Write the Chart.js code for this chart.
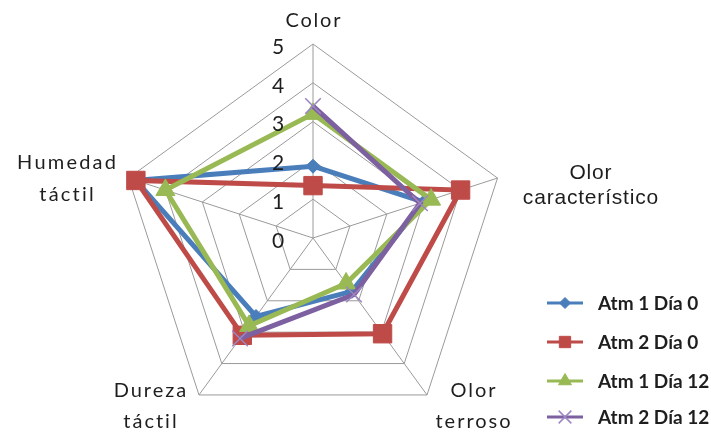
<!DOCTYPE html>
<html>
<head>
<meta charset="utf-8">
<script src="https://cdn.jsdelivr.net/npm/chart.js@4/dist/chart.umd.min.js"></script>
<style>
  html, body { margin: 0; padding: 0; background: #ffffff; }
  #wrap { width: 711px; height: 433px; position: relative; }
</style>
</head>
<body>
<div id="wrap"><canvas id="radar"></canvas></div>
<script>
// Sensory attributes (axes), clockwise from the top
const categories = ['Color', 'Olor característico', 'Olor terroso', 'Dureza táctil', 'Humedad táctil'];
const seriesNames = ['Atm 1 Día 0', 'Atm 2 Día 0', 'Atm 1 Día 12', 'Atm 2 Día 12'];

// Mean panel scores per attribute
const atm1Dia0  = [1.85, 3.0, 1.7, 2.5, 4.8];
const atm2Dia0  = [1.35, 4.0, 3.05, 3.1, 4.8];
const atm1Dia12 = [3.2, 3.2, 1.45, 2.8, 4.0];
const atm2Dia12 = [3.4, 2.9, 1.8, 3.2, null];

const tickValues = [0, 1, 2, 3, 4, 5];

// Visual styles per series
const seriesStyles = [
  { color: '#4A7EBB', point: 'rectRot', radius: 7, legendRadius: 5.5, pointBorder: 1 },
  { color: '#BE4B48', point: 'rect', radius: 13, legendRadius: 8, pointBorder: 1 },
  { color: '#98B954', point: 'triangle', radius: 11, legendRadius: 7.5, pointBorder: 1 },
  { color: '#7D60A0', point: 'crossRot', radius: 11, legendRadius: 9, pointBorder: 1.5, pointColor: '#9C86C2' }
];

// Axis captions: split lines, anchor offset from the outer vertex, typeface
const captionLayout = [
  { lines: ['Color'], dx: 0, dy: -17, lh: 0, font: '20px Lato', spacing: 1.8 },
  { lines: ['Olor', 'característico'], dx: 93, dy: 1, lh: 25, font: '21px "Liberation Sans"', spacing: 0.8 },
  { lines: ['Olor', 'terroso'], dx: 46, dy: 2, lh: 31, font: '20px Lato', spacing: 2 },
  { lines: ['Dureza', 'táctil'], dx: -49, dy: 2, lh: 31, font: '20px Lato', spacing: 2 },
  { lines: ['Humedad', 'táctil'], dx: -62, dy: -9, lh: 32, font: '20px Lato', spacing: 2.2 }
];

const seriesData = [atm1Dia0, atm2Dia0, atm1Dia12, atm2Dia12];

const datasets = seriesData.map((values, i) => {
  const s = seriesStyles[i];
  return {
    label: seriesNames[i],
    data: values,
    borderColor: s.color,
    backgroundColor: 'rgba(0,0,0,0)',
    borderWidth: 5,
    fill: false,
    spanGaps: false,
    pointStyle: s.point,
    pointRadius: s.radius,
    pointBorderWidth: s.pointBorder,
    pointBackgroundColor: s.pointColor || s.color,
    pointBorderColor: s.pointColor || s.color,
    order: seriesData.length - 1 - i
  };
});

function drawMarker(ctx, style, radius, x, y) {
  const helpers = Chart.helpers;
  ctx.save();
  ctx.fillStyle = style.pointColor || style.color;
  ctx.strokeStyle = style.pointColor || style.color;
  ctx.lineWidth = style.pointBorder;
  if (helpers && helpers.drawPoint) {
    helpers.drawPoint(ctx, { pointStyle: style.point, radius: radius, rotation: 0, borderWidth: style.pointBorder }, x, y);
  }
  ctx.restore();
}

const overlayText = {
  id: 'overlayText',
  afterDraw(chart) {
    const ctx = chart.ctx;
    const scale = chart.scales.r;

    // Axis captions
    ctx.save();
    ctx.fillStyle = '#1e1e1e';
    ctx.textAlign = 'center';
    ctx.textBaseline = 'alphabetic';
    captionLayout.forEach((c, i) => {
      const p = scale.getPointPosition(i, scale.drawingArea);
      ctx.font = c.font;
      if ('letterSpacing' in ctx) ctx.letterSpacing = c.spacing + 'px';
      c.lines.forEach((line, k) => {
        ctx.fillText(line, p.x + c.dx + c.spacing / 2, p.y + c.dy + k * c.lh);
      });
    });
    ctx.restore();

    // Value ticks, set off to the left of the top axis
    ctx.save();
    ctx.fillStyle = '#1e1e1e';
    ctx.font = '21px Lato';
    ctx.textAlign = 'center';
    ctx.textBaseline = 'middle';
    tickValues.forEach(v => {
      const p = scale.getPointPositionForValue(0, v);
      ctx.fillText(String(v), p.x - 35, p.y + 3);
    });
    ctx.restore();

    // Legend
    ctx.save();
    const lx0 = 547, lx1 = 583, tx = 598;
    const rowY = [303, 342, 381, 417];
    seriesNames.forEach((name, i) => {
      const s = seriesStyles[i];
      const y = rowY[i];
      ctx.strokeStyle = s.color;
      ctx.lineWidth = 3;
      ctx.beginPath();
      ctx.moveTo(lx0, y);
      ctx.lineTo(lx1, y);
      ctx.stroke();
      drawMarker(ctx, s, s.legendRadius, (lx0 + lx1) / 2, y);
      ctx.fillStyle = '#1e1e1e';
      ctx.font = 'bold 19px Lato';
      ctx.textAlign = 'left';
      ctx.textBaseline = 'middle';
      ctx.fillText(name, tx, y + 1);
    });
    ctx.restore();
  }
};

new Chart(document.getElementById('radar'), {
  type: 'radar',
  data: { labels: categories, datasets: datasets },
  options: {
    responsive: true,
    maintainAspectRatio: false,
    animation: false,
    layout: { padding: { left: 119, right: 204, top: 44, bottom: 1 } },
    plugins: {
      legend: { display: false },
      title: { display: false },
      tooltip: { enabled: false }
    },
    scales: {
      r: {
        min: 0,
        max: 5,
        ticks: { stepSize: 1, display: false },
        pointLabels: { display: false },
        grid: { color: '#9a9a9a', lineWidth: 1 },
        angleLines: { color: '#9a9a9a', lineWidth: 1 }
      }
    }
  },
  plugins: [overlayText]
});
</script>
</body>
</html>
